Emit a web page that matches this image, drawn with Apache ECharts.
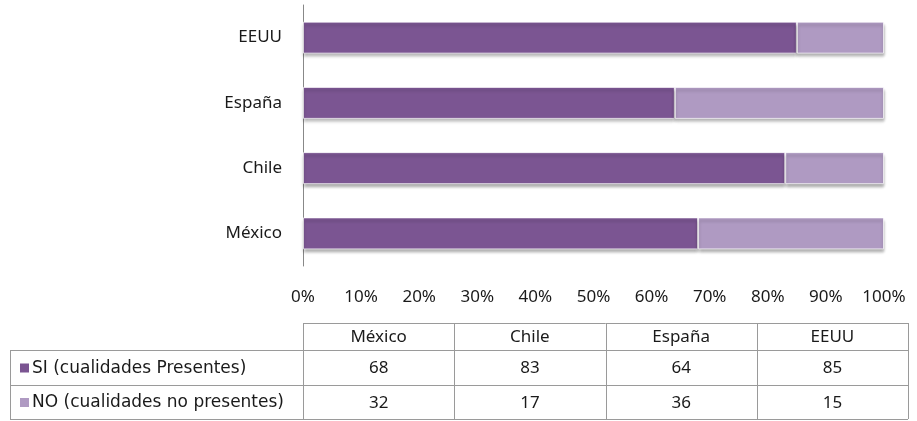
<!DOCTYPE html>
<html>
<head>
<meta charset="utf-8">
<script src="https://cdn.jsdelivr.net/npm/echarts@6/dist/echarts.min.js"></script>
<style>
html,body{margin:0;padding:0;background:#fff;}
#c{width:917px;height:421px;}
</style>
</head>
<body>
<div id="c"></div>
<script>
const categories = ['México', 'Chile', 'España', 'EEUU'];
const seriesNames = ['SI (cualidades Presentes)', 'NO (cualidades no presentes)'];
const siValues = [68, 83, 64, 85];
const noValues = [32, 17, 36, 15];
const tickLabels = ['0%', '10%', '20%', '30%', '40%', '50%', '60%', '70%', '80%', '90%', '100%'];

const colors = ['#7b5592', '#af9ac2'];
const FONT = '"Noto Sans", sans-serif';
const FONT2 = '"DejaVu Sans", sans-serif';
const FS = 17;
const TXT = '#1a1a1a';

const chart = echarts.init(document.getElementById('c'), null, {renderer: 'canvas'});

// table layout
const tLeft = 10, tCol0 = 303, tRight = 908;
const rowY = [323, 350, 385, 419];
const colW = (tRight - tCol0) / categories.length;
const lineColor = '#9a9a9a';

function buildTable() {
  const g = [];
  const ln = (x1, y1, x2, y2) => g.push({type: 'line', shape: {x1, y1, x2, y2}, style: {stroke: lineColor, lineWidth: 1}, silent: true});
  ln(tCol0, rowY[0] + 0.5, tRight, rowY[0] + 0.5);
  for (let i = 1; i < rowY.length; i++) ln(tLeft, rowY[i] + 0.5, tRight, rowY[i] + 0.5);
  ln(tLeft + 0.5, rowY[1], tLeft + 0.5, rowY[3]);
  for (let j = 0; j <= categories.length; j++) {
    const x = Math.round(tCol0 + j * colW) + 0.5;
    ln(x, rowY[0], x, rowY[3]);
  }
  categories.forEach((c, j) => {
    g.push({type: 'text', x: tCol0 + (j + 0.5) * colW, y: (rowY[0] + rowY[1]) / 2 + 1,
      style: {text: c, font: FS + 'px ' + FONT, fill: TXT, textAlign: 'center', textVerticalAlign: 'middle'}, silent: true});
  });
  const rows = [siValues, noValues];
  rows.forEach((vals, r) => {
    const cy = (rowY[r + 1] + rowY[r + 2]) / 2 + 1;
    g.push({type: 'rect', shape: {x: 20, y: cy - 5, width: 9, height: 9}, style: {fill: colors[r]}, silent: true});
    g.push({type: 'text', x: 32, y: cy,
      style: {text: seriesNames[r], font: FS + 'px ' + FONT2, fill: TXT, textAlign: 'left', textVerticalAlign: 'middle'}, silent: true});
    vals.forEach((v, j) => {
      g.push({type: 'text', x: tCol0 + (j + 0.5) * colW, y: cy,
        style: {text: String(v), font: FS + 'px ' + FONT, fill: TXT, textAlign: 'center', textVerticalAlign: 'middle'}, silent: true});
    });
  });
  return g;
}

const barStyle = (c) => ({
  color: c,
  borderColor: 'rgba(255,255,255,0.7)',
  borderWidth: 1,
  shadowColor: 'rgba(0,0,0,0.35)',
  shadowBlur: 3,
  shadowOffsetY: 3,
  shadowOffsetX: 0
});

chart.setOption({
  animation: false,
  grid: {left: 303, right: 33, top: 5, bottom: 155, containLabel: false},
  xAxis: {
    type: 'value', min: 0, max: 100, interval: 10,
    axisLine: {show: false}, axisTick: {show: false}, splitLine: {show: false},
    axisLabel: {
      margin: 23, color: TXT, fontFamily: FONT, fontSize: FS,
      formatter: (v) => tickLabels[Math.round(v / 10)]
    }
  },
  yAxis: {
    type: 'category', data: categories,
    axisLine: {show: true, lineStyle: {color: '#888', width: 1}},
    axisTick: {show: false},
    axisLabel: {margin: 21, color: TXT, fontFamily: FONT, fontSize: FS}
  },
  series: [
    {name: seriesNames[0], type: 'bar', stack: 'total', data: siValues, barWidth: 32, itemStyle: barStyle(colors[0])},
    {name: seriesNames[1], type: 'bar', stack: 'total', data: noValues, barWidth: 32, itemStyle: barStyle(colors[1])}
  ],
  graphic: buildTable()
});
</script>
</body>
</html>
